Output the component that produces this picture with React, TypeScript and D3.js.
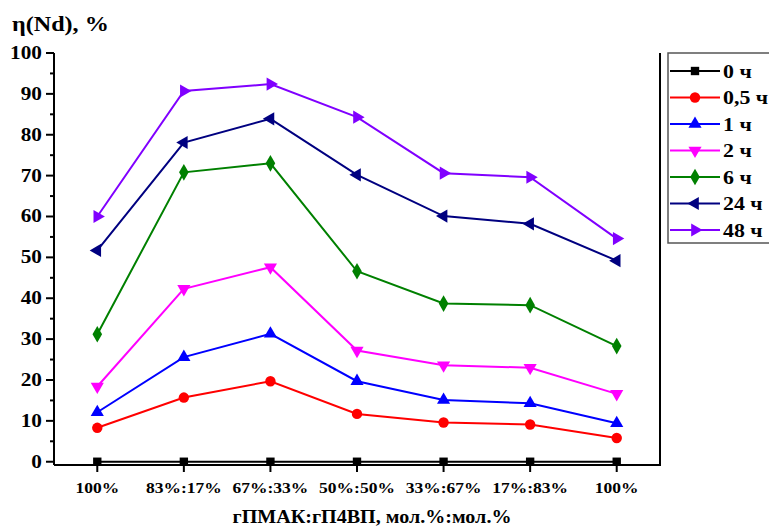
import React from "react";
import * as d3 from "d3";

// composition labels (x axis)
const categories = ["100%", "83%:17%", "67%:33%", "50%:50%", "33%:67%", "17%:83%", "100%"];

// η(Nd), % for each contact time
const s0 = [0, 0, 0, 0, 0, 0, 0];
const s05 = [8.3, 15.7, 19.7, 11.7, 9.6, 9.1, 5.8];
const s1 = [12.1, 25.6, 31.3, 19.7, 15.1, 14.3, 9.4];
const s2 = [18.4, 42.3, 47.6, 27.2, 23.6, 23.0, 16.6];
const s6 = [31.2, 70.8, 73.0, 46.6, 38.7, 38.3, 28.3];
const s24 = [51.7, 78.1, 83.9, 70.2, 60.1, 58.2, 49.2];
const s48 = [60.0, 90.7, 92.4, 84.3, 70.6, 69.6, 54.6];

const seriesNames = ["0 ч", "0,5 ч", "1 ч", "2 ч", "6 ч", "24 ч", "48 ч"];
const yTicks = [0, 10, 20, 30, 40, 50, 60, 70, 80, 90, 100];

const W = 769;
const H = 527;
const FONT = "Liberation Serif, Times New Roman, serif";

const series = [
  { name: seriesNames[0], values: s0, color: "#000000", shape: d3.symbolSquare, size: 70, rot: 0 },
  { name: seriesNames[1], values: s05, color: "#ff0000", shape: d3.symbolCircle, size: 85, rot: 0 },
  { name: seriesNames[2], values: s1, color: "#0000ff", shape: d3.symbolTriangle, size: 75, rot: 0 },
  { name: seriesNames[3], values: s2, color: "#ff00ff", shape: d3.symbolTriangle, size: 75, rot: 180 },
  { name: seriesNames[4], values: s6, color: "#008000", shape: d3.symbolDiamond, size: 80, rot: 0 },
  { name: seriesNames[5], values: s24, color: "#000080", shape: d3.symbolTriangle, size: 75, rot: -90 },
  { name: seriesNames[6], values: s48, color: "#8000ff", shape: d3.symbolTriangle, size: 75, rot: 90 },
];

// text slightly stretched horizontally, like the original export
function Txt({ x, y, size, sx = 1, anchor = "start", children }: any) {
  return (
    <text
      transform={`translate(${x},${y}) scale(${sx},1)`}
      fontSize={size}
      textAnchor={anchor}
    >
      {children}
    </text>
  );
}

export default function App() {
  const left = 54;
  const right = 660;
  const top = 53;
  const bottom = 465;

  const x = d3.scaleLinear().domain([-0.5, categories.length - 0.5]).range([left, right]);
  const y = d3.scaleLinear().domain([-0.8, 100]).range([bottom, top]);

  const line = d3
    .line<number>()
    .x((_, i) => x(i))
    .y((d) => y(d));

  const minor = d3.range(5, 100, 10);

  const legendX = 668;
  const legendY = 53;
  const rowH = 26.5;

  return (
    <svg
      width={W}
      height={H}
      style={{
        position: "absolute",
        left: 0,
        top: 0,
        background: "#fff",
        fontFamily: FONT,
        fontWeight: "bold",
      }}
    >
      {/* y title */}
      <Txt x={12} y={31} size={21} sx={1.15}>
        η(Nd), %
      </Txt>

      {/* frame: left, bottom, right */}
      <line x1={left} x2={left} y1={top} y2={bottom} stroke="#000" strokeWidth={2} />
      <line x1={left} x2={right + 1} y1={bottom} y2={bottom} stroke="#000" strokeWidth={2} />
      <line x1={right} x2={right} y1={top} y2={bottom} stroke="#000" strokeWidth={2} />

      {/* y ticks */}
      {yTicks.map((t) => (
        <g key={t}>
          <line x1={left - 8} x2={left} y1={y(t)} y2={y(t)} stroke="#000" strokeWidth={2} />
          <Txt x={42} y={y(t) + 6} size={18.5} sx={1.15} anchor="end">
            {t}
          </Txt>
        </g>
      ))}
      {minor.map((t) => (
        <line key={t} x1={left - 4} x2={left} y1={y(t)} y2={y(t)} stroke="#000" strokeWidth={2} />
      ))}

      {/* x ticks */}
      {categories.map((c, i) => (
        <g key={i}>
          <line x1={x(i)} x2={x(i)} y1={bottom} y2={bottom + 7} stroke="#000" strokeWidth={2} />
          <Txt x={x(i)} y={bottom + 28} size={15.5} sx={1.13} anchor="middle">
            {c}
          </Txt>
        </g>
      ))}

      {/* x title */}
      <Txt x={372} y={523} size={19.5} sx={1.03} anchor="middle">
        гПМАК:гП4ВП, мол.%:мол.%
      </Txt>

      {/* series */}
      {series.map((s) => (
        <g key={s.name}>
          <path d={line(s.values) || ""} fill="none" stroke={s.color} strokeWidth={2} />
          {s.values.map((v, i) => (
            <path
              key={i}
              d={d3.symbol().type(s.shape).size(s.size)() || ""}
              transform={`translate(${x(i)},${y(v)}) rotate(${s.rot})`}
              fill={s.color}
            />
          ))}
        </g>
      ))}

      {/* legend */}
      <rect
        x={legendX}
        y={legendY}
        width={110}
        height={190}
        fill="#fff"
        stroke="#555"
        strokeWidth={1.5}
      />
      {series.map((s, i) => {
        const cy = legendY + 18 + i * rowH;
        return (
          <g key={s.name}>
            <line x1={670} x2={720} y1={cy} y2={cy} stroke={s.color} strokeWidth={2} />
            <path
              d={d3.symbol().type(s.shape).size(s.size)() || ""}
              transform={`translate(695,${cy}) rotate(${s.rot})`}
              fill={s.color}
            />
            <Txt x={723} y={cy + 6.5} size={19} sx={1.15}>
              {s.name}
            </Txt>
          </g>
        );
      })}
    </svg>
  );
}
